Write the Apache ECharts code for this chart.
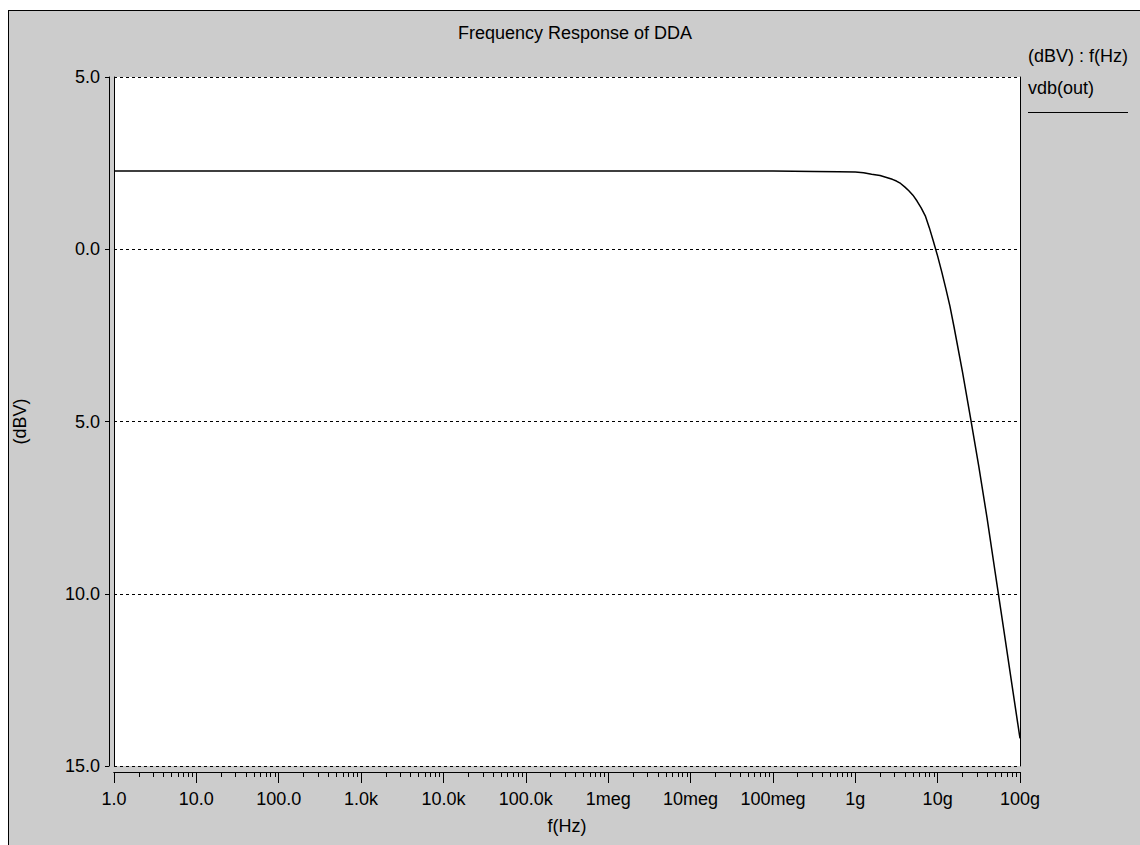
<!DOCTYPE html>
<html>
<head>
<meta charset="utf-8">
<script src="https://cdn.jsdelivr.net/npm/echarts@6/dist/echarts.min.js"></script>
<style>
html,body{margin:0;padding:0;background:#fff;width:1140px;height:845px;overflow:hidden;}
#panel{position:absolute;left:8px;top:10px;width:1140px;height:850px;background:#cccccc;border:1px solid #000;box-sizing:border-box;}
#chart{position:absolute;left:0;top:0;width:1140px;height:845px;}
</style>
</head>
<body>
<div id="panel"></div>
<div id="chart"></div>
<script>
// Data
const freqHz = [1, 10, 100, 1e3, 1e4, 1e5, 1e6, 1e7, 1e8, 3.16e8, 6.31e8,
  1e9, 1.26e9, 1.58e9, 2e9, 2.51e9, 2.82e9, 3.16e9, 3.55e9, 3.98e9, 4.47e9, 5.01e9,
  5.62e9, 6.31e9, 7.08e9, 7.94e9, 8.91e9, 1e10, 1.12e10, 1.26e10, 1.41e10, 1.58e10,
  2e10, 2.51e10, 3.16e10, 3.98e10, 5.01e10, 6.31e10, 7.94e10, 1e11];
const vdbOut = [2.27, 2.27, 2.27, 2.27, 2.27, 2.27, 2.27, 2.27, 2.27, 2.26, 2.25,
  2.24, 2.22, 2.18, 2.14, 2.07, 2.03, 1.98, 1.91, 1.81, 1.70, 1.57,
  1.40, 1.20, 0.97, 0.62, 0.22, -0.2, -0.65, -1.15, -1.65, -2.25,
  -3.55, -4.9, -6.3, -7.8, -9.4, -11.0, -12.6, -14.2];

const xTickValues = [1, 10, 100, 1e3, 1e4, 1e5, 1e6, 1e7, 1e8, 1e9, 1e10, 1e11];
const xTickLabels = ['1.0', '10.0', '100.0', '1.0k', '10.0k', '100.0k', '1meg', '10meg', '100meg', '1g', '10g', '100g'];
const yTickValues = [-15, -10, -5, 0, 5];
const yTickLabels = ['15.0', '10.0', '5.0', '0.0', '5.0'];

const titleText = 'Frequency Response of DDA';
const axesText = '(dBV) : f(Hz)';
const seriesName = 'vdb(out)';
const xName = 'f(Hz)';
const yName = '(dBV)';

const xMinorValues = [];
for (let k = 0; k < 11; k++) {
  for (let m = 2; m <= 9; m++) xMinorValues.push(m * Math.pow(10, k));
}

const FONT = '"Liberation Sans", Arial, Helvetica, sans-serif';
const FS = 18;

const chart = echarts.init(document.getElementById('chart'), null, {renderer: 'svg'});
const grid = {left: 114, top: 77, width: 906, height: 689, show: true, backgroundColor: '#ffffff', borderWidth: 0};

chart.setOption({
  animation: false,
  backgroundColor: 'transparent',
  textStyle: {fontFamily: FONT},
  title: {
    text: titleText,
    left: 453, top: 19,
    textStyle: {fontFamily: FONT, fontSize: FS, fontWeight: 'normal', color: '#000'}
  },
  grid: grid,
  xAxis: [{
    type: 'log', logBase: 10, min: 1, max: 1e11,
    position: 'bottom', offset: 6,
    name: xName, nameLocation: 'middle', nameGap: 45,
    nameTextStyle: {fontFamily: FONT, fontSize: FS, color: '#000'},
    axisLine: {show: true, onZero: false, lineStyle: {color: '#000', width: 1}},
    axisTick: {show: true, inside: false, length: 11, customValues: xTickValues, lineStyle: {color: '#000', width: 1}},
    axisLabel: {show: true, margin: 18, customValues: xTickValues, fontFamily: FONT, fontSize: FS, color: '#000',
      formatter: function (v) {
        const i = xTickValues.findIndex(t => Math.abs(Math.log10(t) - Math.log10(v)) < 1e-6);
        return i >= 0 ? xTickLabels[i] : '';
      }},
    splitLine: {show: false}
  }, {
    type: 'log', logBase: 10, min: 1, max: 1e11,
    position: 'bottom', offset: 6,
    axisLine: {show: true, onZero: false, lineStyle: {color: '#000', width: 1}},
    axisTick: {show: true, inside: false, length: 5, customValues: xMinorValues, lineStyle: {color: '#000', width: 1}},
    axisLabel: {show: false},
    splitLine: {show: false}
  }],
  yAxis: [{
    type: 'value', min: -15, max: 5, interval: 5,
    position: 'left', offset: 5,
    name: yName, nameLocation: 'middle', nameGap: 80, nameRotate: 90,
    nameTextStyle: {fontFamily: FONT, fontSize: FS, color: '#000'},
    axisLine: {show: true, onZero: false, lineStyle: {color: '#000', width: 1}},
    axisTick: {show: true, inside: false, length: 4, lineStyle: {color: '#000', width: 1}},
    axisLabel: {show: true, margin: 9, fontFamily: FONT, fontSize: FS, color: '#000',
      formatter: function (v) {
        const i = yTickValues.indexOf(v);
        return i >= 0 ? yTickLabels[i] : '';
      }},
    splitLine: {show: true, showMinLine: true, showMaxLine: true, lineStyle: {color: '#000', width: 1, type: [3, 3]}}
  }, {
    type: 'value', min: -15, max: 5, interval: 5,
    position: 'left', offset: 0,
    axisLine: {show: true, onZero: false, lineStyle: {color: '#000', width: 1}},
    axisTick: {show: false}, axisLabel: {show: false}, splitLine: {show: false}
  }, {
    type: 'value', min: -15, max: 5, interval: 5,
    position: 'right', offset: 0,
    axisLine: {show: true, onZero: false, lineStyle: {color: '#000', width: 1}},
    axisTick: {show: false}, axisLabel: {show: false}, splitLine: {show: false}
  }],
  graphic: [
    {type: 'text', left: 1028, top: 47, style: {text: axesText, font: FS + 'px ' + FONT, fill: '#000'}},
    {type: 'text', left: 1028, top: 79, style: {text: seriesName, font: FS + 'px ' + FONT, fill: '#000'}},
    {type: 'line', shape: {x1: 1028, y1: 112.5, x2: 1128, y2: 112.5}, style: {stroke: '#000', lineWidth: 1}}
  ],
  series: [{
    name: seriesName,
    type: 'line',
    xAxisIndex: 0, yAxisIndex: 0,
    data: freqHz.map((f, i) => [f, vdbOut[i]]),
    showSymbol: false,
    smooth: false,
    lineStyle: {color: '#000', width: 1.5}
  }]
});
</script>
</body>
</html>
